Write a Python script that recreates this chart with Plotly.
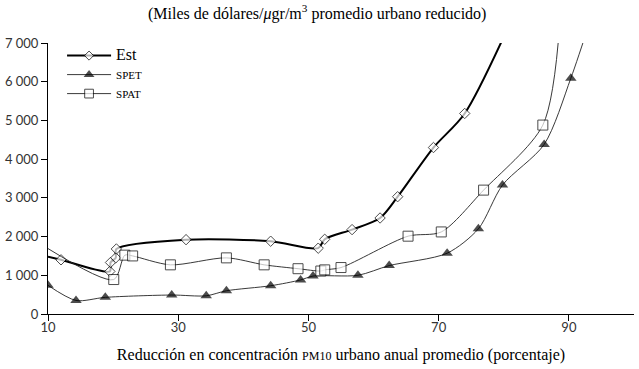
import plotly.graph_objects as go

# Est series
est_x = [10, 12.0, 19.5, 19.6, 20.4, 20.5, 31.2, 44.2, 51.5, 52.5, 56.7, 61.0, 63.7, 69.2, 74.0, 82.0]
est_y = [1480, 1400, 1100, 1330, 1450, 1680, 1920, 1880, 1700, 1930, 2180, 2480, 3030, 4300, 5180, 7900]

# SPET series
spet_x = [10, 14.3, 18.8, 29.0, 34.3, 37.4, 44.2, 48.8, 50.7, 57.6, 62.4, 71.3, 76.1, 79.8, 86.2, 90.3, 93.5]
spet_y = [740, 350, 430, 490, 470, 600, 730, 880, 980, 1000, 1250, 1570, 2200, 3330, 4380, 6090, 7700]

# SPAT series
spat_x = [10, 20.1, 21.8, 23.0, 28.8, 37.4, 43.2, 48.4, 51.9, 52.5, 55.0, 65.3, 70.4, 76.9, 86.0, 88.6]
spat_y = [1690, 890, 1520, 1500, 1270, 1450, 1270, 1170, 1110, 1140, 1200, 2010, 2120, 3200, 4880, 7500]

x_ticks = [10, 30, 50, 70, 90]
y_ticks = [0, 1000, 2000, 3000, 4000, 5000, 6000, 7000]
y_tick_labels = ["0", "1 000", "2 000", "3 000", "4 000", "5 000", "6 000", "7 000"]

def sizes(n, s):
    return [0] + [s] * (n - 2) + [0]

fig = go.Figure()
fig.add_trace(go.Scatter(
    x=est_x, y=est_y, name="<span style='font-size:16px'>Est</span>", mode="lines+markers",
    line=dict(color="black", width=2, shape="spline", smoothing=0.8),
    marker=dict(symbol="diamond", size=sizes(len(est_x), 8), color="white",
                line=dict(color="black", width=1)),
))
spet_sizes = [10] * (len(spet_x) - 1) + [0]
fig.add_trace(go.Scatter(
    x=spet_x, y=spet_y, name="SPET", mode="lines+markers",
    line=dict(color="#222222", width=0.9, shape="spline", smoothing=0.8),
    marker=dict(symbol="triangle-up", size=spet_sizes, color="black",
                line=dict(color="black", width=0)),
))
fig.add_trace(go.Scatter(
    x=spat_x, y=spat_y, name="SPAT", mode="lines+markers",
    line=dict(color="#222222", width=0.9, shape="spline", smoothing=0.8),
    marker=dict(symbol="square", size=sizes(len(spat_x), 10), color="white",
                line=dict(color="black", width=1)),
))

fig.update_layout(
    width=639, height=369,
    margin=dict(l=48, r=5, t=43, b=55, autoexpand=False),
    paper_bgcolor="white", plot_bgcolor="white",
    showlegend=True,
    legend=dict(x=0.024, y=1.007, xanchor="left", yanchor="top",
                font=dict(family="Liberation Serif", size=11, color="black"),
                bgcolor="rgba(0,0,0,0)", tracegroupgap=0, itemsizing="trace",
                itemwidth=44),
    annotations=[
        dict(text="(Miles de dólares/<i>μ</i>gr/m<sup>3</sup> promedio urbano reducido)",
             x=(317 - 48) / (639 - 53), y=1.0, xref="paper", yref="paper", showarrow=False,
             yshift=31,
             font=dict(family="Liberation Serif", size=16, color="black"),
             xanchor="center", yanchor="middle"),
    ],
    xaxis=dict(
        range=[10, 100], tickvals=x_ticks, ticks="outside", ticklen=6, tickcolor="black",
        showline=True, linecolor="black", linewidth=1, showgrid=False, zeroline=False,
        tickfont=dict(family="Lato", size=13, color="#333333"), automargin=False,
        ticklabelstandoff=-5,
        title=dict(text="Reducción en concentración <span style='font-size:12px'>PM10</span> urbano anual promedio (porcentaje)",
                   font=dict(family="Liberation Serif", size=16, color="black"), standoff=15),
    ),
    yaxis=dict(
        range=[0, 7000], tickvals=y_ticks, ticktext=y_tick_labels, ticks="outside", ticklen=6,
        tickcolor="black", showline=True, linecolor="black", linewidth=1, showgrid=False,
        zeroline=False, tickfont=dict(family="Lato", size=13, color="#333333"), automargin=False,
    ),
)

fig.write_html("out.html", config={"displayModeBar": False},
               post_script="document.body.style.margin='0';")
